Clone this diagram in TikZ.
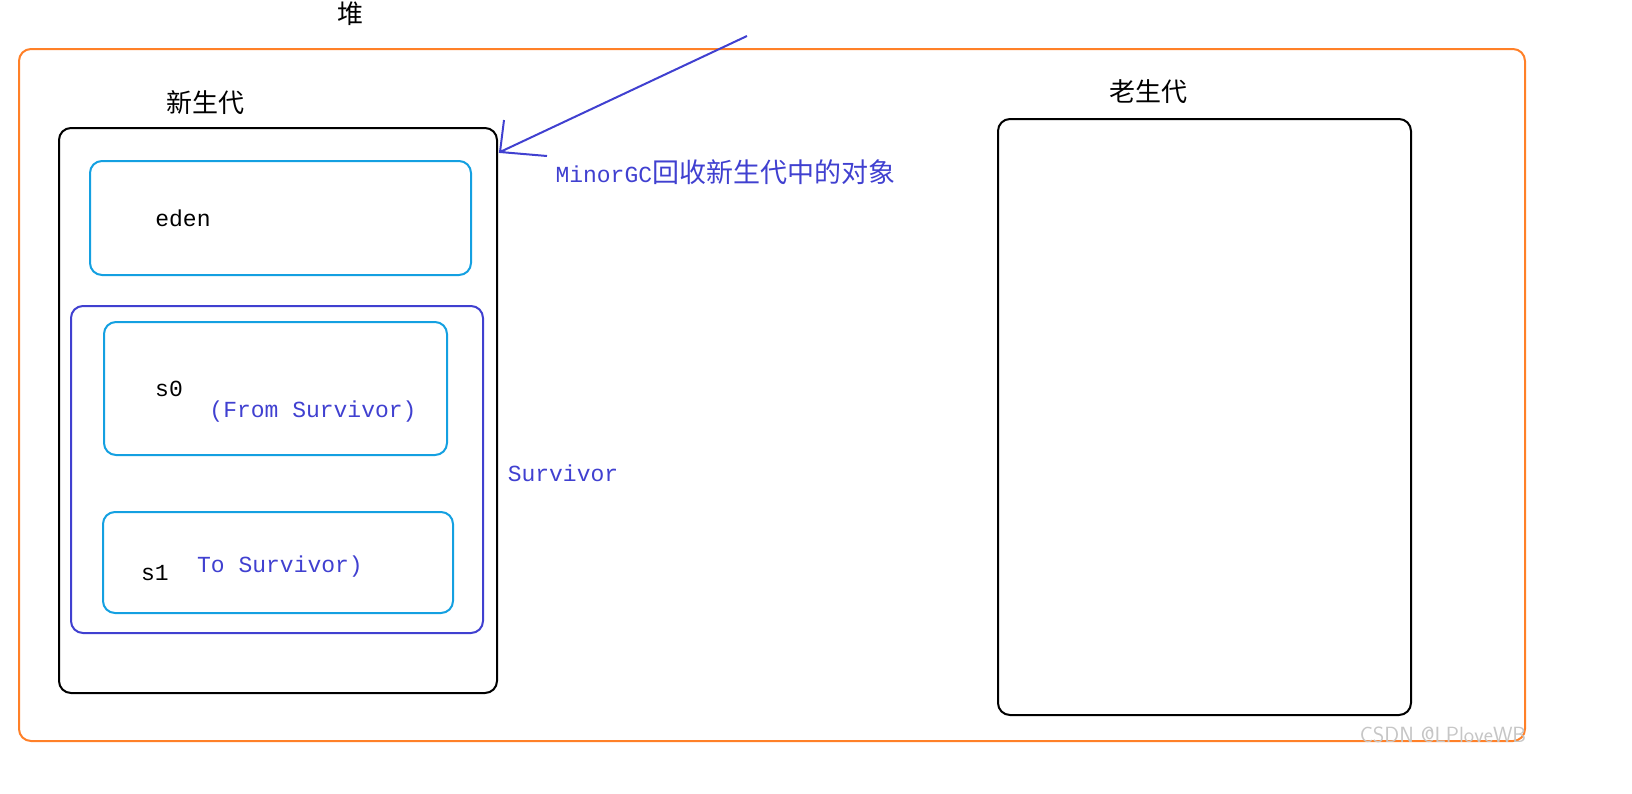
\documentclass[tikz,border=0pt]{standalone}
\usepackage{fontspec}
\setmonofont{Liberation Mono}
\newfontfamily\cjk{Noto Sans CJK SC}
\definecolor{og}{RGB}{255,128,40}
\definecolor{cy}{RGB}{20,160,225}
\definecolor{bl}{RGB}{64,64,208}
\begin{document}
\begin{tikzpicture}[x=1pt,y=-1pt,
  box/.style={draw,line width=2pt,rounded corners=12pt},
  lab/.style={font=\fontsize{26}{26}\selectfont\cjk},
  mono/.style={font=\fontsize{23}{23}\selectfont\ttfamily}]
\useasboundingbox (0,0) rectangle (1632,793);
\node[box,draw=og,minimum width=1506pt,minimum height=692pt,anchor=north west] (heap) at (18,48) {};
\node[lab] (hl) at (350,14) {堆};
\node[lab] (yl) at (205,103) {新生代};
\node[box,minimum width=438pt,minimum height=565pt,anchor=north west] (young) at (58,127) {};
\node[box,draw=cy,minimum width=381pt,minimum height=114pt,anchor=north west] (eden) at (89,160) {};
\node[mono] (et) at (183,218) {eden};
\node[box,draw=bl,minimum width=412pt,minimum height=327pt,anchor=north west] (surv) at (70,305) {};
\node[box,draw=cy,minimum width=343pt,minimum height=133pt,anchor=north west] (s0) at (103,321) {};
\node[mono] (s0t) at (169,389) {s0};
\node[mono,text=bl] (s0f) at (313,412) {(From Survivor)};
\node[box,draw=cy,minimum width=350pt,minimum height=101pt,anchor=north west] (s1) at (102,511) {};
\node[mono] (s1t) at (155,573) {s1};
\node[mono,text=bl] (s1f) at (280,567) {To Survivor)};
\node[mono,text=bl] (st) at (563,473) {Survivor};
\node[lab] (ol) at (1148,92) {老生代};
\node[box,minimum width=413pt,minimum height=596pt,anchor=north west] (old) at (997,118) {};
\coordinate (a0) at (747,36);
\coordinate (a1) at (500,152);
\coordinate (h1) at (504,120);
\coordinate (h2) at (547,156);
\draw[bl,line width=2pt] (a0) -- (a1) (h1) -- (a1) -- (h2);
\node[anchor=west,text=bl,font=\fontsize{23}{23}\selectfont\ttfamily] (mg) at (552,172) {MinorGC{\fontsize{27}{27}\selectfont\cjk 回收新生代中的对象}};
\node[text=gray!45,font=\fontsize{22}{22}\selectfont\sffamily] (wm) at (1443,735) {CSDN @LPloveWB};
\end{tikzpicture}
\end{document}
